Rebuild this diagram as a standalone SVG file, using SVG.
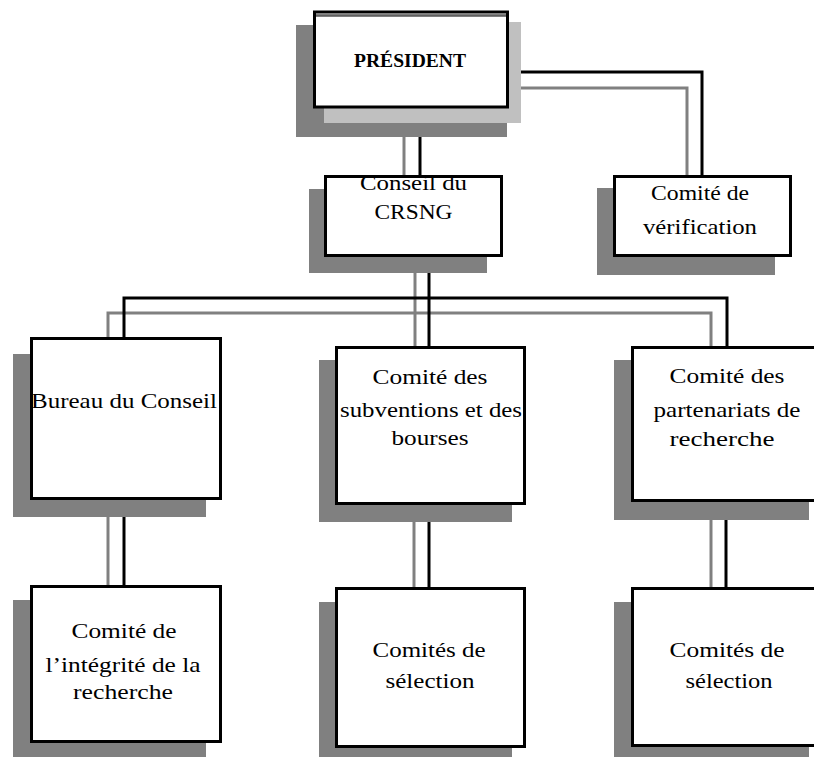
<svg xmlns="http://www.w3.org/2000/svg" width="814" height="757" viewBox="0 0 814 757">
<style>
.bx{fill:#ffffff;stroke:#000000;stroke-width:3}
.sh{fill:#808080}
.lt{fill:#c0c0c0}
.k{fill:none;stroke:#000000;stroke-width:3}
.g{fill:none;stroke:#808080;stroke-width:3}
text{font-family:"Liberation Serif","Times New Roman",serif;font-size:21px;fill:#000000;text-anchor:middle}
.b{font-weight:bold;font-size:19px}
</style>
<rect width="814" height="757" fill="#ffffff"/>
<g id="connectors">
<polyline class="g" points="521,88 687,88 687,175"/>
<polyline class="k" points="509,72 702,72 702,175"/>
<line class="g" x1="404" y1="137" x2="404" y2="175"/>
<line class="k" x1="420" y1="108" x2="420" y2="175"/>
<polyline class="g" points="108,337 108,313 711,313 711,346"/>
<line class="g" x1="415" y1="273" x2="415" y2="346"/>
<polyline class="k" points="124,337 124,298 727,298 727,346"/>
<line class="k" x1="429" y1="257" x2="429" y2="346"/>
<line class="g" x1="108" y1="517" x2="108" y2="585"/>
<line class="k" x1="124" y1="500" x2="124" y2="585"/>
<line class="g" x1="414" y1="522" x2="414" y2="587"/>
<line class="k" x1="429" y1="505" x2="429" y2="587"/>
<line class="g" x1="711" y1="520" x2="711" y2="587"/>
<line class="k" x1="726" y1="502" x2="726" y2="587"/>
</g>
<g id="president">
<rect class="sh" x="296" y="25" width="211" height="112"/>
<rect class="lt" x="324" y="22" width="197" height="101"/>
<rect class="bx" x="314.5" y="12" width="193" height="95"/>
<line x1="316" y1="14.5" x2="506" y2="14.5" stroke="#808080" stroke-width="2"/>
<line x1="316" y1="16" x2="506" y2="16" stroke="#000000" stroke-width="1"/>
<text class="b" x="410" y="67" textLength="112" lengthAdjust="spacingAndGlyphs">PRÉSIDENT</text>
</g>
<g id="conseil">
<rect class="sh" x="309" y="189" width="178" height="84"/>
<rect class="bx" x="325.5" y="176.5" width="176" height="79"/>
<text x="413.5" y="190" textLength="107" lengthAdjust="spacingAndGlyphs">Conseil du</text>
<text x="413.5" y="219" textLength="78" lengthAdjust="spacingAndGlyphs">CRSNG</text>
</g>
<g id="verification">
<rect class="sh" x="597" y="188" width="178" height="87"/>
<rect class="bx" x="614.5" y="176.5" width="176" height="79"/>
<text x="700" y="200" textLength="98" lengthAdjust="spacingAndGlyphs">Comité de</text>
<text x="700" y="234" textLength="114" lengthAdjust="spacingAndGlyphs">vérification</text>
</g>
<g id="bureau">
<rect class="sh" x="13" y="354" width="193" height="163"/>
<rect class="bx" x="31.5" y="338.5" width="189" height="160"/>
<text x="124" y="408" textLength="186" lengthAdjust="spacingAndGlyphs">Bureau du Conseil</text>
</g>
<g id="subventions">
<rect class="sh" x="319" y="360" width="193" height="162"/>
<rect class="bx" x="336.5" y="347.5" width="188" height="156"/>
<text x="430" y="384" textLength="115" lengthAdjust="spacingAndGlyphs">Comité des</text>
<text x="431" y="417" textLength="182" lengthAdjust="spacingAndGlyphs">subventions et des</text>
<text x="430" y="445" textLength="77" lengthAdjust="spacingAndGlyphs">bourses</text>
</g>
<g id="partenariats">
<rect class="sh" x="614" y="360" width="195" height="160"/>
<rect class="bx" x="632.5" y="347.5" width="189" height="153"/>
<text x="727" y="383" textLength="115" lengthAdjust="spacingAndGlyphs">Comité des</text>
<text x="727" y="417" textLength="147" lengthAdjust="spacingAndGlyphs">partenariats de</text>
<text x="722" y="446" textLength="105" lengthAdjust="spacingAndGlyphs">recherche</text>
</g>
<g id="integrite">
<rect class="sh" x="13" y="600" width="193" height="160"/>
<rect class="bx" x="31.5" y="586.5" width="189" height="155"/>
<text x="124" y="638" textLength="105" lengthAdjust="spacingAndGlyphs">Comité de</text>
<text x="123" y="672" textLength="155" lengthAdjust="spacingAndGlyphs">l’intégrité de la</text>
<text x="123" y="699" textLength="100" lengthAdjust="spacingAndGlyphs">recherche</text>
</g>
<g id="selection1">
<rect class="sh" x="319" y="602" width="193" height="160"/>
<rect class="bx" x="336.5" y="588.5" width="188" height="158"/>
<text x="429" y="657" textLength="113" lengthAdjust="spacingAndGlyphs">Comités de</text>
<text x="430" y="688" textLength="89" lengthAdjust="spacingAndGlyphs">sélection</text>
</g>
<g id="selection2">
<rect class="sh" x="614" y="602" width="195" height="160"/>
<rect class="bx" x="632.5" y="588.5" width="189" height="157"/>
<text x="727" y="657" textLength="115" lengthAdjust="spacingAndGlyphs">Comités de</text>
<text x="729" y="688" textLength="87" lengthAdjust="spacingAndGlyphs">sélection</text>
</g>
</svg>
